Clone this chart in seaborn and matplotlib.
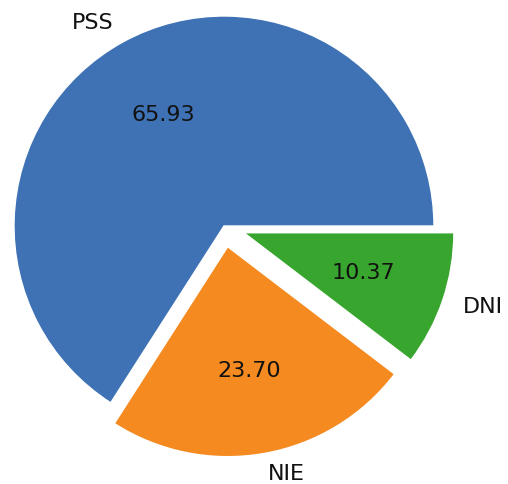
import matplotlib
matplotlib.use("Agg")
import matplotlib.pyplot as plt
import seaborn as sns

sns.set_style("white")

# pie data
labels = ['PSS', 'NIE', 'DNI']
shares = [65.93, 23.70, 10.37]
colors = ['#3f72b5', '#f48a20', '#38a62e']
explode = [0, 0.1, 0.1]

fig = plt.figure(figsize=(5.08, 4.84), dpi=100)
ax = fig.add_axes([0, 0, 1, 1])
ax.pie(shares, labels=labels, colors=colors, explode=explode,
       autopct='%.2f', textprops={'fontsize': 16, 'color': '#111111'})

# place the pie like the reference (radius ~210 px, centre ~(224, 226))
r = 210.0
cx, cy = 224, 226
ax.set_aspect('auto')
ax.set_xlim(-cx / r, (508 - cx) / r)
ax.set_ylim(-(484 - cy) / r, cy / r)
ax.axis('off')

plt.savefig('out.png', dpi=100)
